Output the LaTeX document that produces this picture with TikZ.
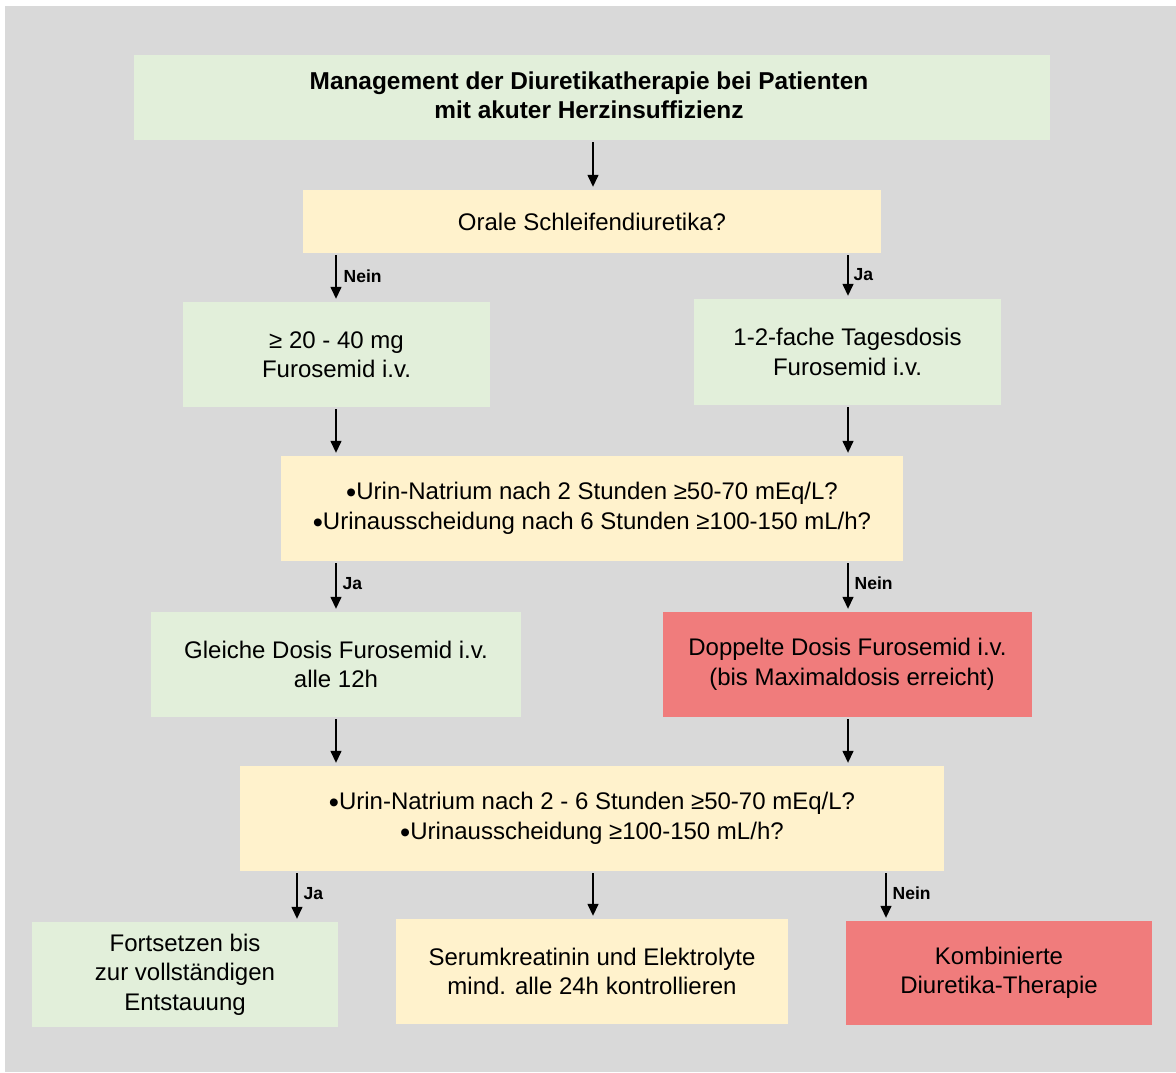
\documentclass[tikz,border=0pt]{standalone}
\usepackage{fontspec}
\setmainfont{Liberation Sans}
\usetikzlibrary{arrows.meta}
\definecolor{bggray}{HTML}{D9D9D9}
\definecolor{boxgreen}{HTML}{E2EFDA}
\definecolor{boxyellow}{HTML}{FFF2CC}
\definecolor{boxred}{HTML}{F07C7C}
\newcommand{\bul}{\raisebox{-3pt}[0pt][0pt]{\fontsize{29}{29}\selectfont •}}
\begin{document}
\begin{tikzpicture}[x=1pt,y=-1pt,
  box/.style={draw=none, inner sep=0pt, align=center, font=\fontsize{24}{29.5}\selectfont, text=black},
  gbox/.style={box, fill=boxgreen},
  ybox/.style={box, fill=boxyellow},
  rbox/.style={box, fill=boxred},
  arr/.style={line width=1.4pt, -{Triangle[length=12pt,width=11pt]}, shorten <=2pt, shorten >=3pt},
  lbl/.style={font=\fontsize{17.5}{17.5}\selectfont\bfseries, anchor=west, inner sep=0pt}
]
\useasboundingbox (0,0) rectangle (1176,1072);
\fill[white] (0,0) rectangle (1176,1072);
\fill[bggray] (5,6) rectangle (1176,1072);

% boxes
\node[gbox, minimum width=916pt, minimum height=85pt] (title) at (592,97.5) {};
\node[font=\fontsize{24.4}{29.5}\selectfont\bfseries, align=center, inner sep=0pt] (titletext) at (589,95.5)
  {Management der Diuretikatherapie bei Patienten\\mit akuter Herzinsuffizienz};
\node[ybox, minimum width=578pt, minimum height=63pt] (q1) at (592,221.5) {Orale Schleifendiuretika?};
\node[gbox, minimum width=307pt, minimum height=105pt] (l1) at (336.5,354.5) {≥ 20 - 40 mg\\Furosemid i.v.};
\node[gbox, minimum width=307pt, minimum height=106pt] (r1) at (847.5,352) {1-2-fache Tagesdosis\\Furosemid i.v.};
\node[ybox, minimum width=622pt, minimum height=105pt] (q2) at (592,508.5)
  {\bul Urin-Natrium nach 2 Stunden ≥50-70 mEq/L?\\\bul Urinausscheidung nach 6 Stunden ≥100-150 mL/h?};
\node[gbox, minimum width=370pt, minimum height=105pt] (l2) at (336,664.5) {Gleiche Dosis Furosemid i.v.\\alle 12h};
\node[rbox, minimum width=369pt, minimum height=105pt] (r2) at (847.5,664.5) {Doppelte Dosis Furosemid i.v.\\\hspace*{9pt}(bis Maximaldosis erreicht)};
\node[ybox, minimum width=704pt, minimum height=105pt] (q3) at (592,818.5)
  {\bul Urin-Natrium nach 2 - 6 Stunden ≥50-70 mEq/L?\\\bul Urinausscheidung ≥100-150 mL/h?};
\node[gbox, minimum width=306pt, minimum height=105pt] (b1) at (185,974.5) {Fortsetzen bis\\zur vollständigen\\Entstauung};
\node[ybox, minimum width=392pt, minimum height=105pt] (b2) at (592,971.5) {Serumkreatinin und Elektrolyte\\mind. alle 24h kontrollieren};
\node[rbox, minimum width=306pt, minimum height=104pt] (b3) at (999,973) {Kombinierte\\Diuretika-Therapie};

% connectors
\coordinate (xa) at (336,0);
\coordinate (xb) at (848,0);
\coordinate (xc) at (297,0);
\coordinate (xd) at (593,0);
\coordinate (xe) at (886,0);

\draw[arr] (title.south -| xd) -- (q1.north -| xd);
\draw[arr] (q1.south -| xa) -- node[lbl, xshift=7pt, yshift=1pt]{Nein} (l1.north -| xa);
\draw[arr] (q1.south -| xb) -- node[lbl, xshift=5pt, yshift=1pt]{Ja} (r1.north -| xb);
\draw[arr] (l1.south -| xa) -- (q2.north -| xa);
\draw[arr] (r1.south -| xb) -- (q2.north -| xb);
\draw[arr] (q2.south -| xa) -- node[lbl, xshift=6pt, yshift=3pt]{Ja} (l2.north -| xa);
\draw[arr] (q2.south -| xb) -- node[lbl, xshift=6pt, yshift=3pt]{Nein} (r2.north -| xb);
\draw[arr] (l2.south -| xa) -- (q3.north -| xa);
\draw[arr] (r2.south -| xb) -- (q3.north -| xb);
\draw[arr] (q3.south -| xc) -- node[lbl, xshift=6pt, yshift=3pt]{Ja} (b1.north -| xc);
\draw[arr] (q3.south -| xd) -- (b2.north -| xd);
\draw[arr] (q3.south -| xe) -- node[lbl, xshift=6pt, yshift=3pt]{Nein} (b3.north -| xe);
\end{tikzpicture}
\end{document}
